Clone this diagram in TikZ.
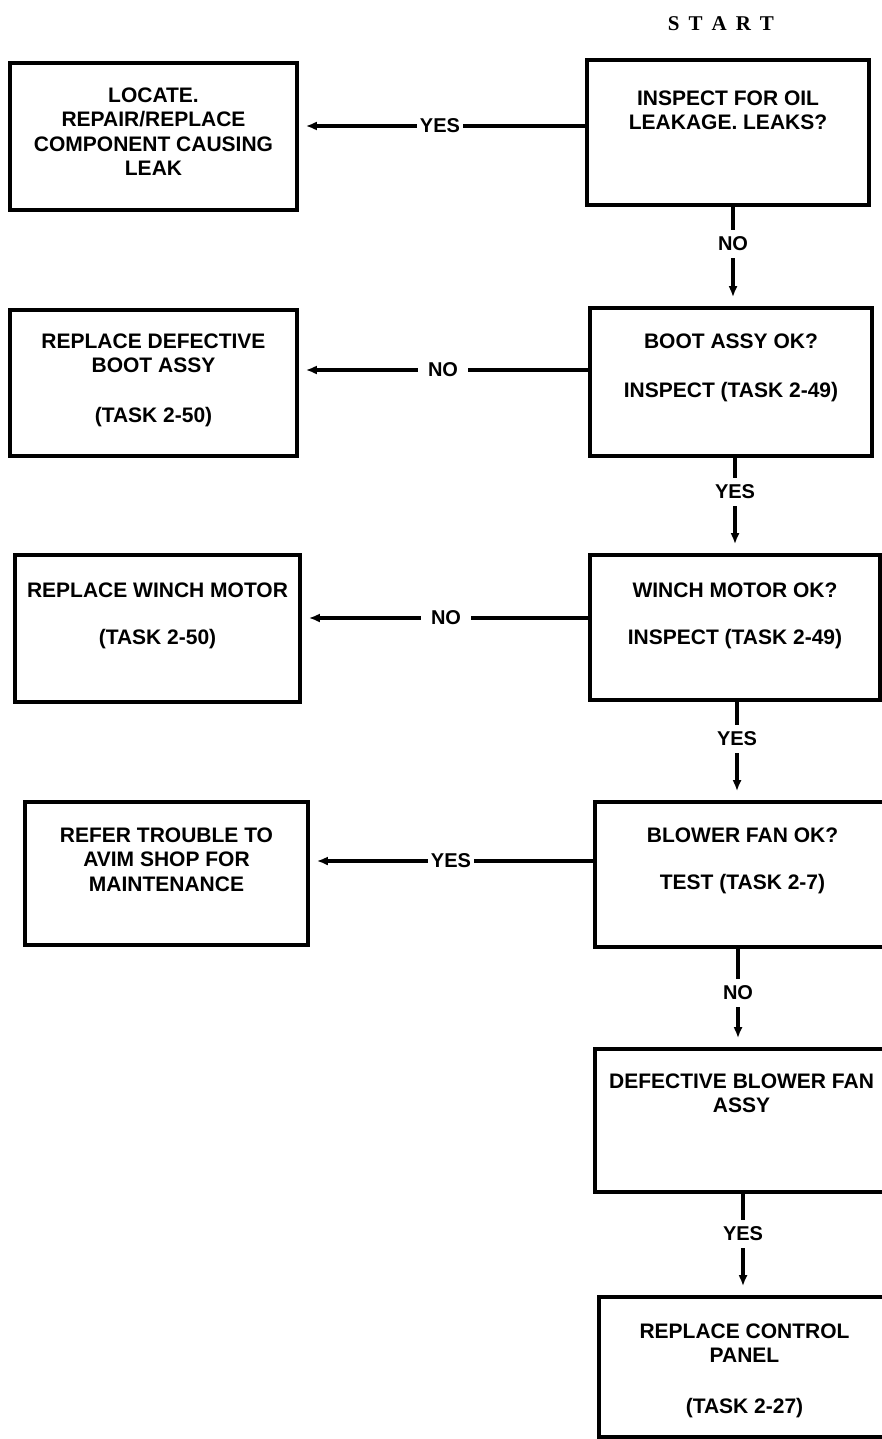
\documentclass[tikz,border=0pt]{standalone}
\usepackage{fontspec}
\setmainfont{Liberation Sans}
\newfontfamily\startfont{Liberation Serif}
\usepackage{tikz}
\usetikzlibrary{arrows.meta, positioning, calc}

\begin{document}
\begin{tikzpicture}[x=1pt, y=-1pt,
  chartbox/.style={draw, line width=3.6pt, inner sep=0pt},
  boxtext/.style={font=\bfseries\fontsize{21pt}{24.5pt}\selectfont, align=center, inner sep=0pt},
  flowlabel/.style={font=\bfseries\fontsize{20pt}{22pt}\selectfont, inner xsep=3pt, inner ysep=7pt},
  flow/.style={line width=3.2pt},
  flowarrow/.style={flow, -{Latex[length=11pt,width=9pt]}, shorten >=7pt}]

\useasboundingbox (0,0) rectangle (882,1439);
\clip (0,0) rectangle (882,1439);

% Start caption
\node[font=\startfont\bfseries\fontsize{21pt}{24pt}\selectfont] (start) at (721,24)
  {S\kern9pt T\kern9pt A\kern9pt R\kern9pt T};

% Check boxes, right column
\node[chartbox, minimum width=282pt, minimum height=145pt] (oilcheck)   at (728,132.5)  {};
\node[chartbox, minimum width=282pt, minimum height=148pt] (bootcheck)  at (731,382)    {};
\node[chartbox, minimum width=290pt, minimum height=145pt] (winchcheck) at (735,627.5)  {};
\node[chartbox, minimum width=295pt, minimum height=145pt] (fancheck)   at (742.5,874.5) {};
\node[chartbox, minimum width=293pt, minimum height=143pt] (fandefect)  at (741.5,1120.5) {};
\node[chartbox, minimum width=291pt, minimum height=140pt] (panelfix)   at (744.5,1367) {};

% Action boxes, left column
\node[chartbox, minimum width=287pt, minimum height=147pt] (locate)   at (153.5,136.5) {};
\node[chartbox, minimum width=287pt, minimum height=146pt] (bootfix)  at (153.5,383)   {};
\node[chartbox, minimum width=285pt, minimum height=147pt] (winchfix) at (157.5,628.5) {};
\node[chartbox, minimum width=283pt, minimum height=143pt] (avim)     at (166.5,873.5) {};

% Box texts
\node[boxtext, below=32pt of oilcheck.north] (oiltext) {INSPECT FOR OIL\\LEAKAGE. LEAKS?};
\node[boxtext, below=27pt of bootcheck.north] (boottext) {BOOT ASSY OK?\\[24.5pt]INSPECT (TASK 2-49)};
\node[boxtext, below=29pt of winchcheck.north] (winchtext) {WINCH MOTOR OK?\\[23pt]INSPECT (TASK 2-49)};
\node[boxtext, below=27pt of fancheck.north] (fantext) {BLOWER FAN OK?\\[23pt]TEST (TASK 2-7)};
\node[boxtext, below=26pt of fandefect.north] (defecttext) {DEFECTIVE BLOWER FAN\\ASSY};
\node[boxtext, below=28pt of panelfix.north] (paneltext) {REPLACE CONTROL\\PANEL\\[26pt](TASK 2-27)};
\node[boxtext, below=26pt of locate.north] (locatetext)
  {LOCATE.\\REPAIR/REPLACE\\COMPONENT CAUSING\\LEAK};
\node[boxtext, below=25pt of bootfix.north] (bootfixtext) {REPLACE DEFECTIVE\\BOOT ASSY\\[25pt](TASK 2-50)};
\node[boxtext, below=29pt of winchfix.north] (winchfixtext) {REPLACE WINCH MOTOR\\[23pt](TASK 2-50)};
\node[boxtext, below=27pt of avim.north] (avimtext) {REFER TROUBLE TO\\AVIM SHOP FOR\\MAINTENANCE};

% Branch labels
\node[flowlabel] (yes1) at (440,126) {YES};
\node[flowlabel, inner xsep=10pt] (no2) at (443,370) {NO};
\node[flowlabel, inner xsep=10pt] (no3) at (446,618) {NO};
\node[flowlabel] (yes4) at (451,861) {YES};
\node[flowlabel] (no1)  at (733,244)  {NO};
\node[flowlabel] (yes2) at (735,492)  {YES};
\node[flowlabel] (yes3) at (737,739)  {YES};
\node[flowlabel] (no4)  at (738,993)  {NO};
\node[flowlabel] (yes5) at (743,1234) {YES};

% Side branches
\draw[flow] (oilcheck.west |- yes1) -- (yes1.east);
\draw[flowarrow] (yes1.west) -- (locate.east |- yes1);
\draw[flow] (bootcheck.west |- no2) -- (no2.east);
\draw[flowarrow] (no2.west) -- (bootfix.east |- no2);
\draw[flow] (winchcheck.west |- no3) -- (no3.east);
\draw[flowarrow] (no3.west) -- (winchfix.east |- no3);
\draw[flow] (fancheck.west |- yes4) -- (yes4.east);
\draw[flowarrow] (yes4.west) -- (avim.east |- yes4);

% Main line down
\draw[flow] (oilcheck.south -| no1) -- (no1.north);
\draw[flowarrow, shorten >=9pt] (no1.south) -- (bootcheck.north -| no1);
\draw[flow] (bootcheck.south -| yes2) -- (yes2.north);
\draw[flowarrow, shorten >=9pt] (yes2.south) -- (winchcheck.north -| yes2);
\draw[flow] (winchcheck.south -| yes3) -- (yes3.north);
\draw[flowarrow, shorten >=9pt] (yes3.south) -- (fancheck.north -| yes3);
\draw[flow] (fancheck.south -| no4) -- (no4.north);
\draw[flowarrow, shorten >=9pt] (no4.south) -- (fandefect.north -| no4);
\draw[flow] (fandefect.south -| yes5) -- (yes5.north);
\draw[flowarrow, shorten >=9pt] (yes5.south) -- (panelfix.north -| yes5);

\end{tikzpicture}
\end{document}
